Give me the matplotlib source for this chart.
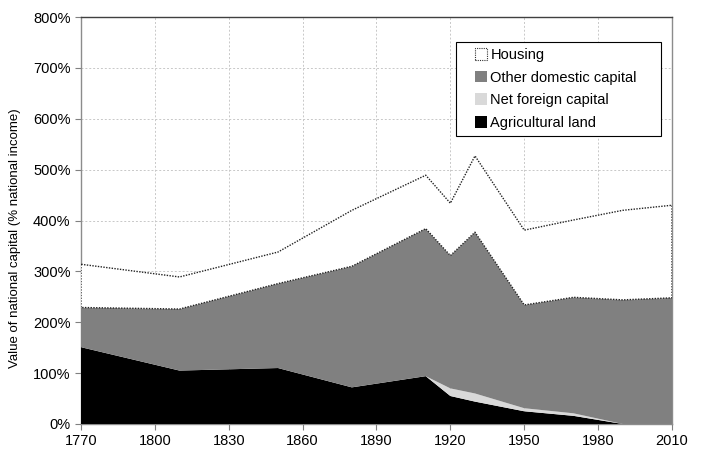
import numpy as np
import matplotlib.pyplot as plt
from matplotlib.patches import Patch, Rectangle
from matplotlib.legend_handler import HandlerPatch

plt.rcParams['font.family'] = ['Liberation Sans', 'DejaVu Sans']

# capital in % of national income
years = [1770, 1810, 1850, 1880, 1910, 1920, 1930, 1950, 1970, 1990, 2010]
land = [151, 105, 110, 72, 94, 55, 44, 25, 16, 0, 0]
foreign = [0, 0, 0, 0, 0, 15, 16, 6, 5, 0, 0]
other = [78, 121, 166, 238, 290, 261, 317, 203, 228, 244, 248]
housing = [85, 63, 62, 110, 105, 103, 150, 147, 152, 176, 182]

xticks = list(range(1770, 2011, 30))
yticks = list(range(0, 801, 100))

yrs = np.array(years)
c1 = np.array(land, dtype=float)
c2 = c1 + np.array(foreign)
c3 = c2 + np.array(other)
c4 = c3 + np.array(housing)

fig = plt.figure(figsize=(7.03, 4.5), dpi=100)
ax = fig.add_axes([0.1152, 0.0578, 0.8407, 0.9044])

ax.fill_between(yrs, 0, c1, facecolor='black', edgecolor='none', zorder=3)
ax.fill_between(yrs, c1, c2, facecolor='#d9d9d9', edgecolor='none', zorder=3)
ax.fill_between(yrs, c2, c3, facecolor='#808080', edgecolor='none', zorder=3)
ax.fill_between(yrs, c3, c4, facecolor='white', edgecolor='#222222',
                linestyle=(0, (1, 1)), linewidth=1.0, zorder=3)

ax.set_xlim(1770, 2010)
ax.set_ylim(0, 800)
ax.set_xticks(xticks)
ax.set_yticks(yticks)
ax.set_yticklabels([f'{v}%' for v in yticks])
ax.tick_params(labelsize=10.5, color='#808080', length=4, width=0.8)
ax.grid(True, color='#c8c8c8', linestyle=(0, (2, 2)), linewidth=0.7, zorder=0)
ax.set_axisbelow(True)

for s in ['left', 'bottom', 'right']:
    ax.spines[s].set_color('#8c8c8c')
    ax.spines[s].set_linewidth(1.0)
ax.spines['top'].set_color('#404040')
ax.spines['top'].set_linewidth(1.0)

ax.set_ylabel('Value of national capital (% national income)', fontsize=9.5)
ax.yaxis.set_label_coords(-0.1015, 0.457)


# small square at the right end of the handle box
def square(legend, orig_handle, xdescent, ydescent, width, height, fontsize):
    s = 8.5
    return Rectangle((-xdescent + width - s, -ydescent + (height - s) / 2), s, s)


handles = [
    Patch(facecolor='white', edgecolor='#333333', linestyle=(0, (1, 1)), linewidth=0.8),
    Patch(facecolor='#808080', edgecolor='none'),
    Patch(facecolor='#d9d9d9', edgecolor='none'),
    Patch(facecolor='black', edgecolor='none'),
]
labels = ['Housing', 'Other domestic capital', 'Net foreign capital', 'Agricultural land']
leg = ax.legend(handles, labels, loc='upper left',
                bbox_to_anchor=(0.6345, 0.9386 - 0.2285, 0.3469, 0.2285), mode='expand',
                fontsize=10.5, frameon=True, fancybox=False, framealpha=1,
                borderpad=0.4, handlelength=1.7, handleheight=0.6,
                handletextpad=0.25, labelspacing=0.6, borderaxespad=0,
                handler_map={Patch: HandlerPatch(patch_func=square)})
leg.get_frame().set_edgecolor('black')
leg.get_frame().set_linewidth(0.8)
leg.set_zorder(5)

fig.savefig('out.png', dpi=100)
